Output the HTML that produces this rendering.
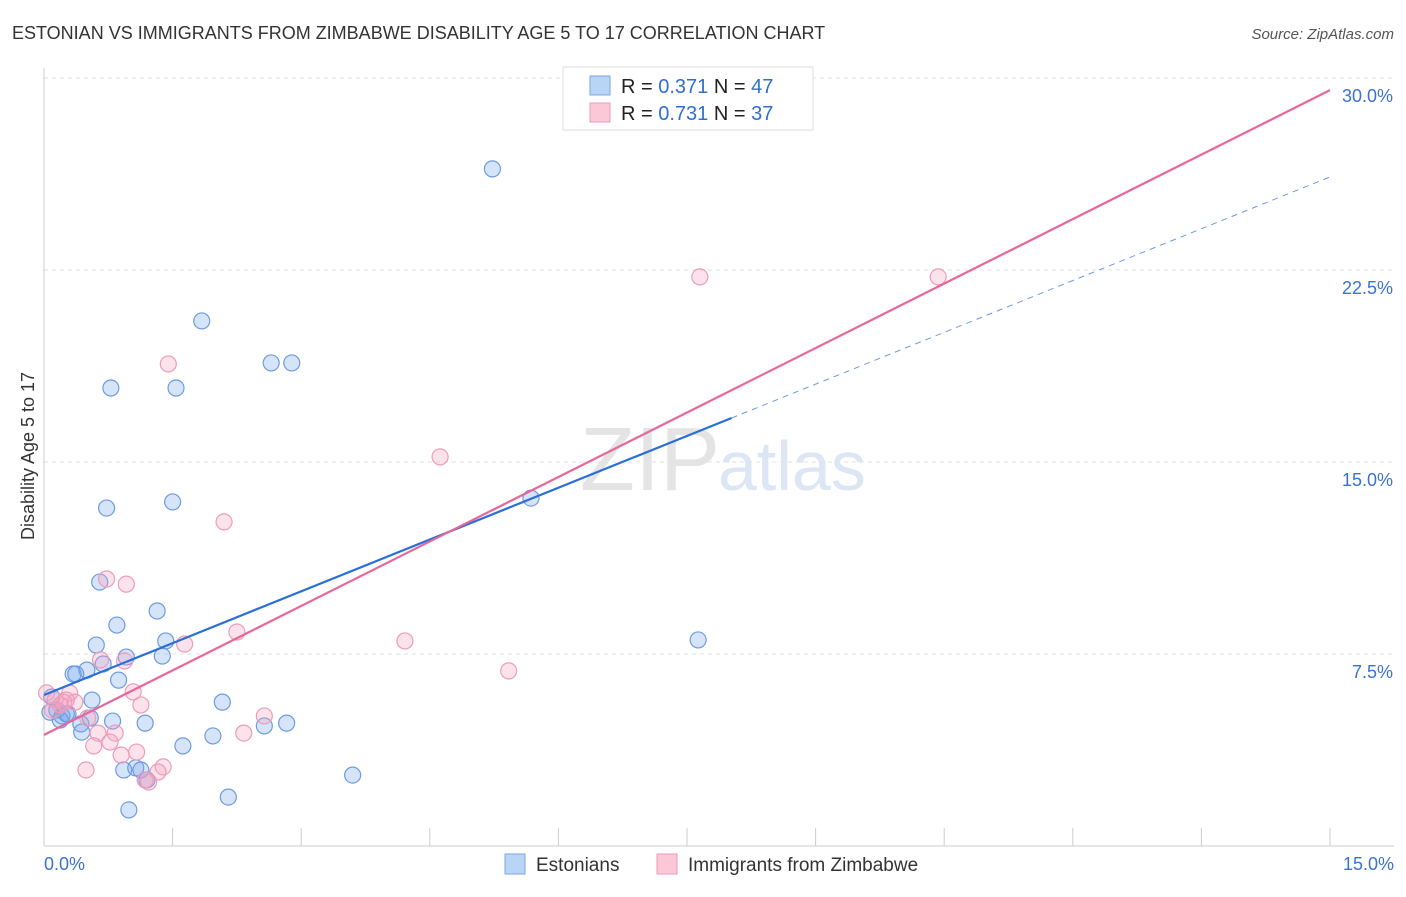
<!DOCTYPE html>
<html><head><meta charset="utf-8"><style>
body{margin:0;background:#fff;font-family:"Liberation Sans",sans-serif;}
svg text{font-family:"Liberation Sans",sans-serif;}
</style></head><body>
<svg id="chart" width="1406" height="892" xmlns="http://www.w3.org/2000/svg">
<text x="12" y="39" font-size="18" fill="#333">ESTONIAN VS IMMIGRANTS FROM ZIMBABWE DISABILITY AGE 5 TO 17 CORRELATION CHART</text>
<text x="1394" y="39" font-size="15" fill="#555" font-style="italic" text-anchor="end">Source: ZipAtlas.com</text>
<text x="34" y="456" font-size="18" fill="#333" text-anchor="middle" transform="rotate(-90 34 456)">Disability Age 5 to 17</text>
<text x="720" y="490" font-size="90" fill="#e4e4e4" text-anchor="end" font-family="Liberation Serif">ZIP</text>
<text x="718" y="490" font-size="70" fill="#dde6f4">atlas</text>
<g id="grid"></g><g id="axes"></g><g id="pts"></g><g id="lines"></g>
<g>
<rect x="563" y="67" width="250" height="63" fill="#fff" stroke="#ddd"/>
<rect x="590" y="76" width="20" height="19" fill="#b8d4f6" stroke="#7ba6e0"/>
<rect x="590" y="103" width="20" height="19" fill="#fbc8d8" stroke="#ef9ab6"/>
<text x="621" y="93" font-size="20" fill="#222">R = <tspan fill="#2f6fd0">0.371</tspan>   N = <tspan fill="#2f6fd0">47</tspan></text>
<text x="621" y="120" font-size="20" fill="#222">R = <tspan fill="#2f6fd0">0.731</tspan>   N = <tspan fill="#2f6fd0">37</tspan></text>
</g>
<g>
<rect x="505" y="854" width="20" height="20" fill="#b8d4f6" stroke="#7ba6e0"/>
<text x="536" y="871" font-size="19" fill="#333">Estonians</text>
<rect x="657" y="854" width="20" height="20" fill="#fbc8d8" stroke="#ef9ab6"/>
<text x="688" y="871" font-size="19" fill="#333">Immigrants from Zimbabwe</text>
</g>
</svg>
<script>
const blueX=[5.23,1.84,0.78,2.65,2.89,1.54,0.73,1.50,5.68,0.65,1.32,0.85,0.61,1.42,0.96,1.38,7.63,0.34,0.50,0.37,0.69,0.87,0.56,2.08,0.09,0.07,0.15,0.21,0.28,0.19,0.54,0.43,0.80,1.18,2.83,2.57,0.44,1.62,1.97,0.93,1.07,1.13,1.20,3.60,2.15,0.99,0.26];
const blueY=[26.45,20.51,17.89,18.87,18.87,17.89,13.20,13.44,13.59,10.31,9.18,8.63,7.85,8.01,7.38,7.42,8.05,6.72,6.87,6.72,7.11,6.48,5.70,5.62,5.82,5.23,5.31,5.08,5.16,4.92,5.00,4.77,4.88,4.80,4.80,4.69,4.45,3.91,4.30,2.97,3.05,2.97,2.58,2.77,1.91,1.41,5.16];
const pinkX=[7.65,10.43,1.45,4.62,2.10,0.73,0.96,2.25,4.21,1.64,5.42,0.66,0.94,1.04,0.03,0.13,0.30,0.36,1.13,0.10,0.51,2.57,2.33,0.83,0.63,0.77,0.58,0.90,1.08,0.49,1.39,1.33,1.18,1.22,0.19,0.23,0.26];
const pinkY=[22.23,22.23,18.83,15.20,12.66,10.43,10.23,8.36,8.01,7.89,6.84,7.27,7.23,6.02,5.98,5.70,5.98,5.62,5.51,5.31,5.00,5.08,4.41,4.41,4.41,4.06,3.91,3.55,3.67,2.97,3.09,2.89,2.58,2.50,5.51,5.62,5.70];
const blueLine=[5.90,1.349]; // intercept, slope
const blueSolidEnd=8.02;
const pinkLine=[4.34,1.679];
const yTicks=[7.5,15,22.5,30];
const yTickLabels=["7.5%","15.0%","22.5%","30.0%"];
const xTicks=[0,1.5,3,4.5,6,7.5,9,10.5,12,13.5,15];
const NS="http://www.w3.org/2000/svg";
const sx=v=>44+v/15*1286, sy=v=>846-v/7.5*192;
function mk(p,t,a){const e=document.createElementNS(NS,t);for(const k in a)e.setAttribute(k,a[k]);document.getElementById(p).appendChild(e);return e;}
yTicks.forEach((t,i)=>{
 const g=mk('grid','line',{x1:44,x2:1394,y1:sy(t),y2:sy(t),stroke:'#e2e2e2','stroke-dasharray':'4 4'});
 
 
 const l=mk('grid','text',{x:1393,y:sy(t)+24,'font-size':18,fill:'#3a72d0','text-anchor':'end'});
 l.textContent=yTickLabels[i];
 
 
});
const ax=mk('axes','line',{x1:44,x2:1394,y1:846,y2:846,stroke:'#ccc'});


const ay=mk('axes','line',{x1:44,x2:44,y1:68,y2:846,stroke:'#ccc'});


xTicks.forEach(t=>{const k=mk('axes','line',{x1:sx(t),x2:sx(t),y1:828,y2:846,stroke:'#ccc'});
 
 });
const x0=mk('axes','text',{x:44,y:870,'font-size':18,fill:'#3a72d0'});x0.textContent='0.0%';


const x1=mk('axes','text',{x:1394,y:870,'font-size':18,fill:'#3a72d0','text-anchor':'end'});x1.textContent='15.0%';


blueX.forEach((v,i)=>{const c=mk('pts','circle',{cx:sx(v),cy:sy(blueY[i]),r:8,fill:'rgba(120,165,235,0.3)',stroke:'#6d9be0','stroke-width':1.2});
 
 });
pinkX.forEach((v,i)=>{const c=mk('pts','circle',{cx:sx(v),cy:sy(pinkY[i]),r:8,fill:'rgba(245,160,190,0.3)',stroke:'#ee9cb8','stroke-width':1.2});
 
 });
const f=(L,x)=>L[0]+L[1]*x;
const bl=mk('lines','line',{x1:sx(0),y1:sy(f(blueLine,0)),x2:sx(blueSolidEnd),y2:sy(f(blueLine,blueSolidEnd)),stroke:'#2a6fd6','stroke-width':2.2});


const bd=mk('lines','line',{x1:sx(blueSolidEnd),y1:sy(f(blueLine,blueSolidEnd)),x2:sx(15),y2:sy(f(blueLine,15)),stroke:'#6d9be0','stroke-width':1,'stroke-dasharray':'6 5'});


const pl=mk('lines','line',{x1:sx(0),y1:sy(f(pinkLine,0)),x2:sx(15),y2:sy(f(pinkLine,15)),stroke:'#e8679a','stroke-width':2.2});


</script>
</body></html>
